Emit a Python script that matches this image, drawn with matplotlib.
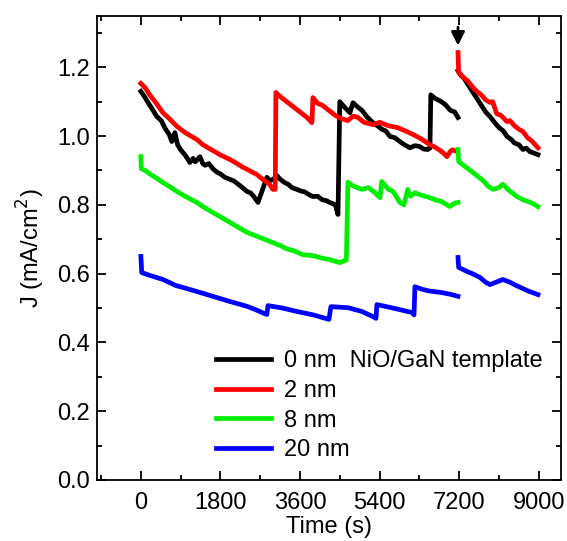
import matplotlib
matplotlib.use("Agg")
import matplotlib.pyplot as plt
from matplotlib.ticker import MultipleLocator

plt.rcParams['font.family'] = ['Liberation Sans', 'DejaVu Sans']

# values: (time in s, J in mA/cm2), two segments each (before / after 7200 s)
t_0nm_a = [0, 80, 150, 250, 360, 460, 560, 640, 700, 770, 830, 900, 1000, 1110, 1180, 1230, 1335, 1400, 1450, 1540,
           1630, 1720, 1800, 1900, 2014, 2100, 2200, 2300, 2400, 2480, 2550, 2650,
           2850, 2920, 3000, 3080, 3145, 3250, 3330, 3420, 3530, 3620, 3700, 3800, 3892, 4000, 4100, 4200, 4277, 4400, 4460,
           4500, 4600, 4730, 4800, 4900, 5000, 5120, 5250, 5350, 5450, 5540, 5635, 5750, 5850, 5960, 6087, 6200, 6300, 6400, 6495, 6540,
           6560, 6650, 6800, 6900, 7000, 7100, 7175]
j_0nm_a = [1.13, 1.115, 1.10, 1.08, 1.057, 1.045, 1.02, 1.005, 0.984, 1.01, 0.975, 0.96, 0.945, 0.923, 0.935, 0.925, 0.94, 0.92, 0.915, 0.92,
           0.905, 0.895, 0.89, 0.88, 0.874, 0.87, 0.86, 0.85, 0.839, 0.835, 0.825, 0.807,
           0.88, 0.87, 0.875, 0.885, 0.875, 0.865, 0.86, 0.85, 0.845, 0.84, 0.838, 0.83, 0.824, 0.825, 0.815, 0.812, 0.807, 0.80, 0.772,
           1.10, 1.085, 1.068, 1.097, 1.085, 1.075, 1.055, 1.039, 1.03, 1.02, 1.015, 0.999, 0.995, 0.985, 0.975, 0.966, 0.972, 0.97, 0.962, 0.961, 0.965,
           1.12, 1.11, 1.10, 1.09, 1.075, 1.07, 1.054]
t_0nm_b = [7175, 7250, 7300, 7400, 7513, 7600, 7700, 7800, 7898, 8000, 8100, 8200, 8283, 8380, 8450, 8550, 8645, 8720, 8800, 8900, 8984]
j_0nm_b = [1.19, 1.175, 1.17, 1.15, 1.127, 1.11, 1.09, 1.07, 1.057, 1.04, 1.025, 1.015, 0.999, 0.99, 0.98, 0.975, 0.961, 0.965, 0.955, 0.95, 0.946]

t_2nm_a = [0, 100, 200, 350, 498, 650, 800, 1000, 1267, 1400, 1600, 1800, 2014, 2150, 2300, 2450, 2625, 2700, 2800, 2900, 2987, 3040,
           3055, 3150, 3300, 3450, 3600, 3750, 3870, 3892, 4000, 4100, 4250, 4400, 4550, 4684, 4800, 4900, 5050, 5250, 5400,
           5600, 5800, 6020, 6150, 6300, 6420, 6540, 6650, 6750, 6850, 6925, 7000, 7050, 7150]
j_2nm_a = [1.153, 1.14, 1.12, 1.095, 1.068, 1.05, 1.03, 1.01, 0.99, 0.975, 0.96, 0.945, 0.932, 0.922, 0.91, 0.90, 0.888, 0.88, 0.87, 0.862, 0.845, 0.845,
           1.127, 1.115, 1.10, 1.085, 1.07, 1.055, 1.039, 1.112, 1.095, 1.09, 1.075, 1.06, 1.05, 1.045, 1.058, 1.055, 1.04, 1.033, 1.04,
           1.03, 1.025, 1.013, 1.005, 0.995, 0.985, 0.975, 0.968, 0.96, 0.95, 0.94, 0.955, 0.96, 0.955]
t_2nm_b = [7175, 7190, 7300, 7400, 7513, 7600, 7700, 7800, 7898, 7960, 8050, 8150, 8283, 8350, 8450, 8550, 8645, 8750, 8850, 8984]
j_2nm_b = [1.243, 1.185, 1.17, 1.16, 1.141, 1.13, 1.12, 1.105, 1.098, 1.10, 1.065, 1.06, 1.042, 1.045, 1.03, 1.02, 1.013, 0.995, 0.985, 0.966]

t_8nm_a = [0, 10, 100, 200, 350, 498, 650, 800, 1000, 1267, 1400, 1600, 1800, 2014, 2200, 2400, 2700, 2987, 3150, 3300, 3450, 3666,
           3900, 4100, 4300, 4503, 4650,
           4684, 4800, 5000, 5150, 5300, 5410, 5450, 5600, 5700, 5860, 5950, 6040, 6100, 6200, 6300, 6540, 6650, 6800, 6990, 7100, 7175]
j_8nm_a = [0.94, 0.905, 0.9, 0.89, 0.878, 0.865, 0.853, 0.84, 0.825, 0.807, 0.795, 0.78, 0.765, 0.749, 0.735, 0.72, 0.705, 0.69, 0.682, 0.672, 0.667, 0.655,
           0.652, 0.645, 0.64, 0.632, 0.64,
           0.866, 0.855, 0.845, 0.85, 0.835, 0.821, 0.868, 0.845, 0.84, 0.807, 0.80, 0.845, 0.825, 0.835, 0.83, 0.821, 0.815, 0.81, 0.795, 0.805, 0.807]
t_8nm_b = [7175, 7190, 7250, 7350, 7513, 7650, 7750, 7850, 7966, 8100, 8190, 8300, 8400, 8500, 8645, 8750, 8850, 8984]
j_8nm_b = [0.961, 0.926, 0.92, 0.91, 0.894, 0.88, 0.87, 0.855, 0.845, 0.85, 0.86, 0.845, 0.835, 0.825, 0.815, 0.81, 0.805, 0.795]

t_20nm_a = [0, 20, 200, 498, 800, 1000, 1267, 1600, 2014, 2400, 2600, 2850,
            2875, 3200, 3530, 3900, 4255,
            4300, 4684, 5000, 5250, 5320,
            5340, 5700, 6133, 6180,
            6200, 6350, 6500, 6800, 7000, 7175]
j_20nm_a = [0.65, 0.603, 0.595, 0.583, 0.565, 0.558, 0.548, 0.535, 0.519, 0.505, 0.495, 0.481,
            0.507, 0.50, 0.49, 0.48, 0.467,
            0.504, 0.501, 0.49, 0.475, 0.47,
            0.51, 0.50, 0.487, 0.48,
            0.562, 0.555, 0.55, 0.545, 0.54, 0.534]
t_20nm_b = [7175, 7190, 7400, 7500, 7672, 7800, 7898, 8190, 8350, 8500, 8750, 8984]
j_20nm_b = [0.647, 0.618, 0.605, 0.6, 0.589, 0.575, 0.568, 0.583, 0.575, 0.565, 0.55, 0.539]

labels = ['0 nm  NiO/GaN template', '2 nm', '8 nm', '20 nm']
colors = ['#000000', '#ff0000', '#00ee00', '#0000ff']

fig = plt.figure(figsize=(5.67, 5.41), dpi=100)
ax = fig.add_axes([0.1705, 0.1128, 0.8185, 0.8582])

series = [(t_0nm_a, j_0nm_a, t_0nm_b, j_0nm_b),
          (t_2nm_a, j_2nm_a, t_2nm_b, j_2nm_b),
          (t_8nm_a, j_8nm_a, t_8nm_b, j_8nm_b),
          (t_20nm_a, j_20nm_a, t_20nm_b, j_20nm_b)]

for (ta, ja, tb, jb), c, lab in zip(series, colors, labels):
    ax.plot(ta, ja, color=c, lw=3.4, label=lab)
    ax.plot(tb, jb, color=c, lw=3.4)

# arrow marking the restart at 7200 s
ax.annotate('', xy=(7175, 1.255), xytext=(7175, 1.325),
            arrowprops=dict(arrowstyle='-|>', color='black', lw=2, mutation_scale=20))

ax.set_xlim(-1000, 9500)
ax.set_ylim(0, 1.35)
ax.xaxis.set_major_locator(MultipleLocator(1800))
ax.xaxis.set_minor_locator(MultipleLocator(900))
ax.yaxis.set_major_locator(MultipleLocator(0.2))
ax.yaxis.set_minor_locator(MultipleLocator(0.1))
ax.yaxis.set_major_formatter(matplotlib.ticker.FormatStrFormatter('%.1f'))

ax.tick_params(which='both', direction='in', top=True, right=True, labelsize=17, width=1.3)
ax.tick_params(which='major', length=6.5)
ax.tick_params(axis='y', which='major', pad=5)
ax.tick_params(axis='x', which='major', pad=9)
ax.tick_params(which='minor', length=3.5)
for s in ax.spines.values():
    s.set_linewidth(1.3)

ax.set_xlabel('Time (s)', fontsize=17, labelpad=1)
ax.set_ylabel('J (mA/cm$^2$)', fontsize=17, labelpad=7)

ax.legend(loc='upper left', bbox_to_anchor=(0.257, 0.279), frameon=False, fontsize=17,
          handlelength=2.35, handletextpad=0.55, labelspacing=0.32, borderpad=0, borderaxespad=0)

fig.savefig('out.png', dpi=100)
